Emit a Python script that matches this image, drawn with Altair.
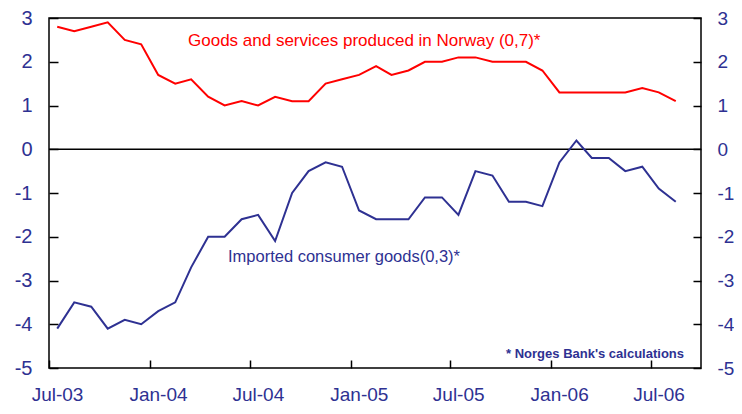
import altair as alt
import pandas as pd

months = [
    "2003-07", "2003-08", "2003-09", "2003-10", "2003-11", "2003-12",
    "2004-01", "2004-02", "2004-03", "2004-04", "2004-05", "2004-06",
    "2004-07", "2004-08", "2004-09", "2004-10", "2004-11", "2004-12",
    "2005-01", "2005-02", "2005-03", "2005-04", "2005-05", "2005-06",
    "2005-07", "2005-08", "2005-09", "2005-10", "2005-11", "2005-12",
    "2006-01", "2006-02", "2006-03", "2006-04", "2006-05", "2006-06",
    "2006-07", "2006-08",
]
goods_norway = [
    2.8, 2.7, 2.8, 2.9, 2.5, 2.4,
    1.7, 1.5, 1.6, 1.2, 1.0, 1.1,
    1.0, 1.2, 1.1, 1.1, 1.5, 1.6,
    1.7, 1.9, 1.7, 1.8, 2.0, 2.0,
    2.1, 2.1, 2.0, 2.0, 2.0, 1.8,
    1.3, 1.3, 1.3, 1.3, 1.3, 1.4,
    1.3, 1.1,
]
imported_goods = [
    -4.1, -3.5, -3.6, -4.1, -3.9, -4.0,
    -3.7, -3.5, -2.7, -2.0, -2.0, -1.6,
    -1.5, -2.1, -1.0, -0.5, -0.3, -0.4,
    -1.4, -1.6, -1.6, -1.6, -1.1, -1.1,
    -1.5, -0.5, -0.6, -1.2, -1.2, -1.3,
    -0.3, 0.2, -0.2, -0.2, -0.5, -0.4,
    -0.9, -1.2,
]
y_ticks = [-5, -4, -3, -2, -1, 0, 1, 2, 3]
x_tick_months = ["2003-07", "2004-01", "2004-07", "2005-01", "2005-07", "2006-01", "2006-07"]
axis_start = "2003-07"
axis_end = "2006-10"

label_norway = "Goods and services produced in Norway (0,7)*"
label_imported = "Imported consumer goods(0,3)*"
footnote = "* Norges Bank's calculations"

NAVY = "#2E3192"
RED = "#FF0000"
FONT = "Liberation Sans"
W, H = 652, 350


def dt(m):
    return alt.DateTime(year=int(m[:4]), month=int(m[5:7]), date=1, utc=True)


df = pd.DataFrame({
    "date": [m + "-16" for m in months],
    "norway": goods_norway,
    "imported": imported_goods,
})

xscale = alt.Scale(type="utc", domain=[dt(axis_start), dt(axis_end)])
yscale = alt.Scale(domain=[-5, 3], nice=False, zero=False)
xvals = [dt(m) for m in x_tick_months]

ylabel_expr = "datum.value < 0 ? '-' + abs(datum.value) : '' + datum.value"

base = alt.Chart(df)

x_labels = alt.X("date:T", scale=xscale, title=None, axis=alt.Axis(
    orient="bottom", values=xvals, labelExpr="utcFormat(datum.value, '%b-%y')",
    tickSize=0, labelPadding=17, labelOffset=8, labelFlush=False,
    labelOverlap=False, domain=False, grid=False,
    labelColor=NAVY, labelFontSize=19, labelFont=FONT))
x_ticks = alt.X("date:T", scale=xscale, title=None, axis=alt.Axis(
    orient="bottom", values=xvals, offset=-8, tickSize=8, labels=False,
    domain=False, grid=False, tickColor="black", tickWidth=1.5))
x_none = alt.X("date:T", scale=xscale, title=None, axis=None)

y_left = alt.Axis(orient="left", values=y_ticks, tickSize=0, labelPadding=17,
                  domain=False, grid=False, labelColor=NAVY, labelFontSize=20,
                  labelFont=FONT, title=None, labelExpr=ylabel_expr)
y_right = alt.Axis(orient="right", values=y_ticks, tickSize=0, labelPadding=16,
                   domain=False, grid=False, labelColor=NAVY, labelFontSize=19,
                   labelFont=FONT, title=None, labelExpr=ylabel_expr)
y_left_ticks = alt.Axis(orient="left", values=y_ticks, offset=-9, tickSize=9,
                        labels=False, domain=False, grid=False, tickColor="black",
                        tickWidth=1.5, title=None)
y_right_ticks = alt.Axis(orient="right", values=y_ticks, offset=-8, tickSize=8,
                         labels=False, domain=False, grid=False, tickColor="black",
                         tickWidth=1.5, title=None)

zero_line = alt.Chart(pd.DataFrame({"y": [0]})).mark_rule(
    color="black", strokeWidth=1.5).encode(
    y=alt.Y("y:Q", scale=yscale, axis=None))

red_line = base.mark_line(color=RED, strokeWidth=2).encode(
    x=x_labels, y=alt.Y("norway:Q", scale=yscale, axis=y_left))
blue_line = base.mark_line(color=NAVY, strokeWidth=2).encode(
    x=x_none, y=alt.Y("imported:Q", scale=yscale, axis=y_right))
ticks_a = base.mark_line(opacity=0).encode(
    x=x_ticks, y=alt.Y("norway:Q", scale=yscale, axis=y_left_ticks))
ticks_b = base.mark_line(opacity=0).encode(
    x=x_none, y=alt.Y("norway:Q", scale=yscale, axis=y_right_ticks))

txt_norway = alt.Chart(pd.DataFrame({"t": [label_norway]})).mark_text(
    align="left", baseline="alphabetic", color=RED, fontSize=17, font=FONT).encode(
    text="t:N", x=alt.value(139), y=alt.value(28))
txt_imported = alt.Chart(pd.DataFrame({"t": [label_imported]})).mark_text(
    align="left", baseline="alphabetic", color=NAVY, fontSize=16.5, font=FONT).encode(
    text="t:N", x=alt.value(179), y=alt.value(244))
txt_foot = alt.Chart(pd.DataFrame({"t": [footnote]})).mark_text(
    align="right", baseline="alphabetic", color=NAVY, fontSize=13, fontWeight="bold",
    font=FONT).encode(
    text="t:N", x=alt.value(635), y=alt.value(340))

chart = alt.layer(
    zero_line, red_line, blue_line, ticks_a, ticks_b,
    txt_norway, txt_imported, txt_foot,
).resolve_scale(x="shared", y="shared").resolve_axis(
    x="independent", y="independent"
).properties(
    width=W, height=H,
    padding={"left": 41, "top": 10, "right": 33, "bottom": 38},
    autosize=alt.AutoSizeParams(type="none"),
).configure_view(stroke="black", strokeWidth=1.5)

chart.save("out.html", embed_options={"renderer": "svg", "actions": False})
